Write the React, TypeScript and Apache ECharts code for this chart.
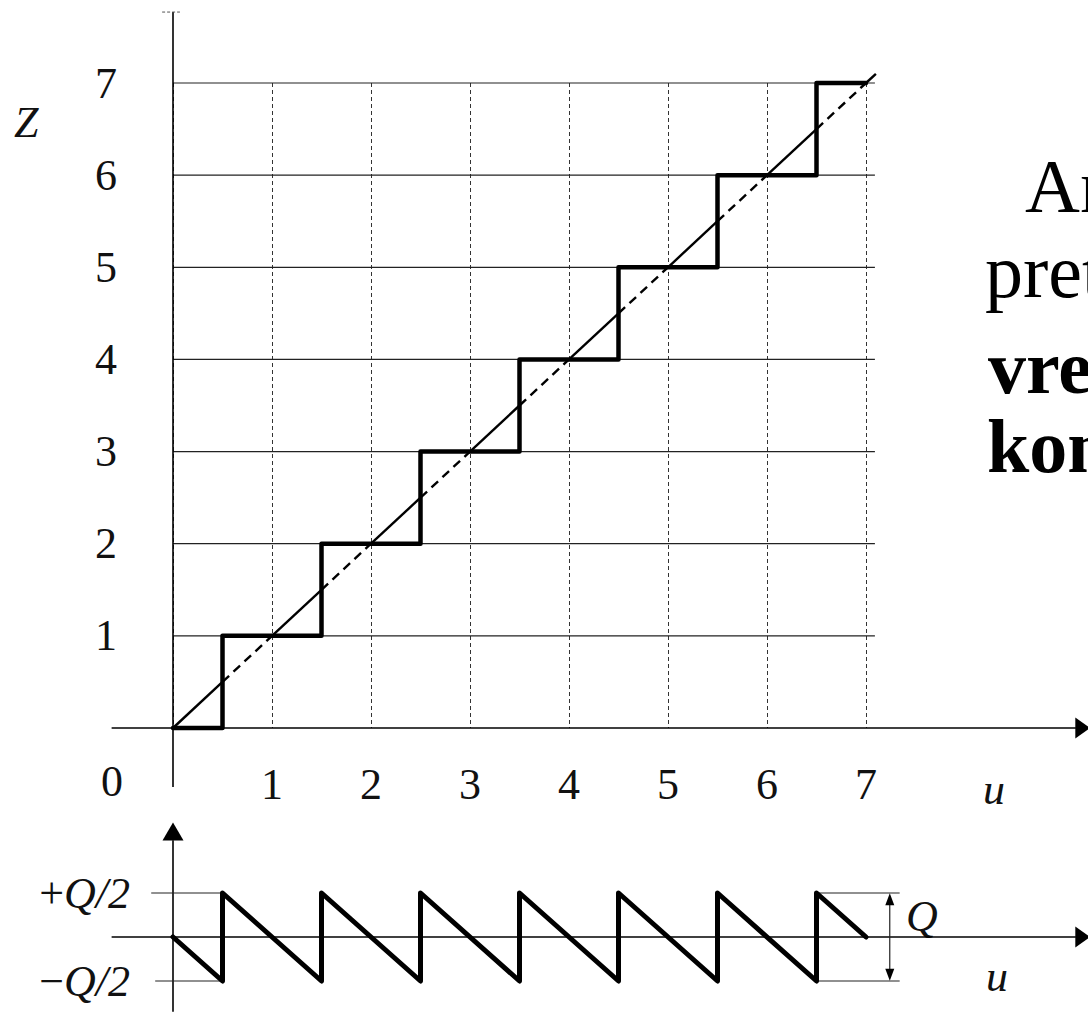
import React, { useEffect, useRef } from 'react';
import * as echarts from 'echarts';

const SERIF = '"Liberation Serif", "Times New Roman", serif';

// ---- data ----
const uTicks = [0, 1, 2, 3, 4, 5, 6, 7];
const zLevels = [1, 2, 3, 4, 5, 6, 7];
const quantInput = [0, 1, 2, 3, 4, 5, 6, 7];
const quantOutput = [0, 1, 2, 3, 4, 5, 6, 7];
const diagBreaks = [0, 0.5, 1, 1.5, 2, 2.5, 3, 3.5, 4, 4.5, 5, 5.5, 6, 6.5, 7, 7.1];
const errU = [0, 0.5, 0.5, 1.5, 1.5, 2.5, 2.5, 3.5, 3.5, 4.5, 4.5, 5.5, 5.5, 6.5, 6.5, 7];
const errE = [0, -0.5, 0.5, -0.5, 0.5, -0.5, 0.5, -0.5, 0.5, -0.5, 0.5, -0.5, 0.5, -0.5, 0.5, 0];
const errLevels = [-0.5, 0.5];
const errTickLabels = ['−', '+'];

// ---- decoration extents (axis units) ----
const TOP_U = [-0.62, 9.12];
const TOP_Z = [-0.64, 7.77];
const BOT_E = [-0.85, 1.1];
const GRID_END = 7.09;
const BOX_END = 7.34;
const QARROW_U = 7.24;

// line styles for decoration segments: index = last value in each segment row
const SEG_STYLES = [
  { stroke: '#222', lineWidth: 1.2 },                    // 0 thin
  { stroke: '#000', lineWidth: 1.6 },                    // 1 axis
  { stroke: '#555', lineWidth: 1, lineDash: [3, 2] },    // 2 cap
  { stroke: '#000', lineWidth: 2.4 },                    // 3 diagonal solid
  { stroke: '#000', lineWidth: 2.4, lineDash: [9, 6] },  // 4 diagonal dashed
];

function segSeries(name: string, gi: number, rows: number[][], z: number) {
  return {
    type: 'custom', name, xAxisIndex: gi, yAxisIndex: gi, data: rows,
    encode: { x: [0, 2], y: [1, 3] }, clip: false, silent: true, z,
    renderItem: (_p: any, api: any) => {
      const a = api.coord([api.value(0), api.value(1)]);
      const b = api.coord([api.value(2), api.value(3)]);
      const s = SEG_STYLES[api.value(4)];
      return {
        type: 'line',
        shape: { x1: a[0], y1: a[1], x2: b[0], y2: b[1] },
        style: { stroke: s.stroke, lineWidth: s.lineWidth, lineDash: (s as any).lineDash || null, lineCap: 'butt' },
      };
    },
  };
}
function arrow(name: string, gi: number, pt: number[], size: number[], rot: number) {
  return {
    type: 'scatter', name, xAxisIndex: gi, yAxisIndex: gi, data: [pt],
    symbol: 'triangle', symbolSize: size, symbolRotate: rot, clip: false, silent: true,
    itemStyle: { color: '#000', opacity: 1 }, z: 5,
  };
}

export default function App() {
  const ref = useRef<HTMLDivElement>(null);
  useEffect(() => {
    if (!ref.current) return;
    const chart = echarts.init(ref.current, null, { renderer: 'svg' });

    const topRows: number[][] = [];
    zLevels.forEach((k) => topRows.push([0, k, GRID_END, k, 0]));
    topRows.push([TOP_U[0], 0, TOP_U[1], 0, 1]);
    topRows.push([0, TOP_Z[0], 0, TOP_Z[1], 1]);
    topRows.push([-0.11, TOP_Z[1], 0.07, TOP_Z[1], 2]);
    const diagRows: number[][] = [];
    for (let i = 0; i < diagBreaks.length - 1; i++) {
      const a = diagBreaks[i], b = diagBreaks[i + 1];
      diagRows.push([a, a, b, b, i % 2 === 0 ? 3 : 4]);
    }
    const botRows: number[][] = [
      [TOP_U[0], 0, TOP_U[1], 0, 1],
      [0, BOT_E[0], 0, BOT_E[1], 1],
      [-0.22, 0.5, 0.5, 0.5, 0],
      [-0.18, -0.5, 0.5, -0.5, 0],
      [6.5, 0.5, BOX_END, 0.5, 0],
      [6.5, -0.5, BOX_END, -0.5, 0],
      [QARROW_U, -0.45, QARROW_U, 0.45, 0],
    ];

    const series: any[] = [
      segSeries('topDecor', 0, topRows, 2),
      segSeries('diagonal', 0, diagRows, 4),
      {
        type: 'line', name: 'Z', xAxisIndex: 0, yAxisIndex: 0,
        data: quantInput.map((u, i) => [u, quantOutput[i]]),
        step: 'middle', symbol: 'none', showSymbol: false, clip: false, silent: true,
        lineStyle: { color: '#000', width: 4.5, join: 'round', cap: 'round' }, z: 6,
      },
      arrow('uArrowTop', 0, [TOP_U[1] + 0.07, 0], [21, 15], -90),
      segSeries('botDecor', 1, botRows, 2),
      arrow('uArrowBot', 1, [TOP_U[1] + 0.07, 0], [21, 15], -90),
      arrow('eArrow', 1, [0, BOT_E[1] + 0.1], [21, 18], 0),
      arrow('qArrowUp', 1, [QARROW_U, 0.43], [9, 12], 0),
      arrow('qArrowDown', 1, [QARROW_U, -0.43], [9, 12], 180),
      {
        type: 'line', name: 'error', xAxisIndex: 1, yAxisIndex: 1,
        data: errU.map((u, i) => [u, errE[i]]),
        symbol: 'none', showSymbol: false, clip: false, silent: true,
        lineStyle: { color: '#000', width: 5, join: 'round', cap: 'round' }, z: 6,
      },
    ];

    const labelFont = { fontFamily: SERIF, fontSize: 44, color: '#111' };
    chart.setOption({
      animation: false,
      backgroundColor: '#fff',
      grid: [
        { left: 173, top: 83, width: 693, height: 645 },
        { left: 173, top: 893, width: 693, height: 88 },
      ],
      xAxis: [
        {
          type: 'value', gridIndex: 0, min: 0, max: 7, interval: 1,
          axisLine: { show: false }, axisTick: { show: false },
          axisLabel: {
            ...labelFont, margin: 56, verticalAlign: 'middle',
            formatter: (v: number) => (v === 0 || !uTicks.includes(v) ? '' : String(v)),
          },
          splitLine: { show: true, lineStyle: { color: '#333', width: 1, type: [4, 3] } },
        },
        {
          type: 'value', gridIndex: 1, min: 0, max: 7, interval: 1,
          axisLine: { show: false }, axisTick: { show: false },
          axisLabel: { show: false }, splitLine: { show: false },
        },
      ],
      yAxis: [
        {
          type: 'value', gridIndex: 0, min: 0, max: 7, interval: 1,
          axisLine: { show: false }, axisTick: { show: false }, splitLine: { show: false },
          axisLabel: {
            ...labelFont, margin: 56,
            formatter: (v: number) => (zLevels.includes(v) ? String(v) : ''),
          },
        },
        {
          type: 'value', gridIndex: 1, min: -0.5, max: 0.5, interval: 0.5,
          axisLine: { show: false }, axisTick: { show: false }, splitLine: { show: false },
          axisLabel: {
            margin: 43,
            formatter: (v: number) => {
              const i = errLevels.indexOf(v);
              return i < 0 ? '' : '{n|' + errTickLabels[i] + '}{i|Q/2}';
            },
            rich: {
              n: { fontFamily: SERIF, fontSize: 44, color: '#111' },
              i: { fontFamily: SERIF, fontSize: 44, fontStyle: 'italic', color: '#111' },
            },
          },
        },
      ],
      series,
      graphic: [
        { type: 'text', left: 14, top: 100, style: { text: 'Z', font: 'italic 44px ' + SERIF, fill: '#111' } },
        { type: 'text', x: 112, y: 781, style: { text: '0', font: '44px ' + SERIF, fill: '#111', align: 'center', verticalAlign: 'middle' } },
        { type: 'text', x: 994, y: 789, style: { text: 'u', font: 'italic 44px ' + SERIF, fill: '#111', align: 'center', verticalAlign: 'middle' } },
        { type: 'text', x: 997, y: 976, style: { text: 'u', font: 'italic 44px ' + SERIF, fill: '#111', align: 'center', verticalAlign: 'middle' } },
        { type: 'text', x: 922, y: 916, style: { text: 'Q', font: 'italic 44px ' + SERIF, fill: '#111', align: 'center', verticalAlign: 'middle' } },
        { type: 'text', x: 1025, y: 186, style: { text: 'An', font: '76px ' + SERIF, fill: '#000', verticalAlign: 'middle' } },
        { type: 'text', x: 985, y: 271, style: { text: 'pret', font: '76px ' + SERIF, fill: '#000', verticalAlign: 'middle' } },
        { type: 'text', x: 988, y: 367, style: { text: 'vre', font: 'bold 76px ' + SERIF, fill: '#000', verticalAlign: 'middle' } },
        { type: 'text', x: 987, y: 446, style: { text: 'kon', font: 'bold 76px ' + SERIF, fill: '#000', verticalAlign: 'middle' } },
      ],
    });
    return () => chart.dispose();
  }, []);
  return (
    <div
      ref={ref}
      style={{ position: 'fixed', left: 0, top: 0, width: 1088, height: 1012, overflow: 'hidden', background: '#fff' }}
    />
  );
}
